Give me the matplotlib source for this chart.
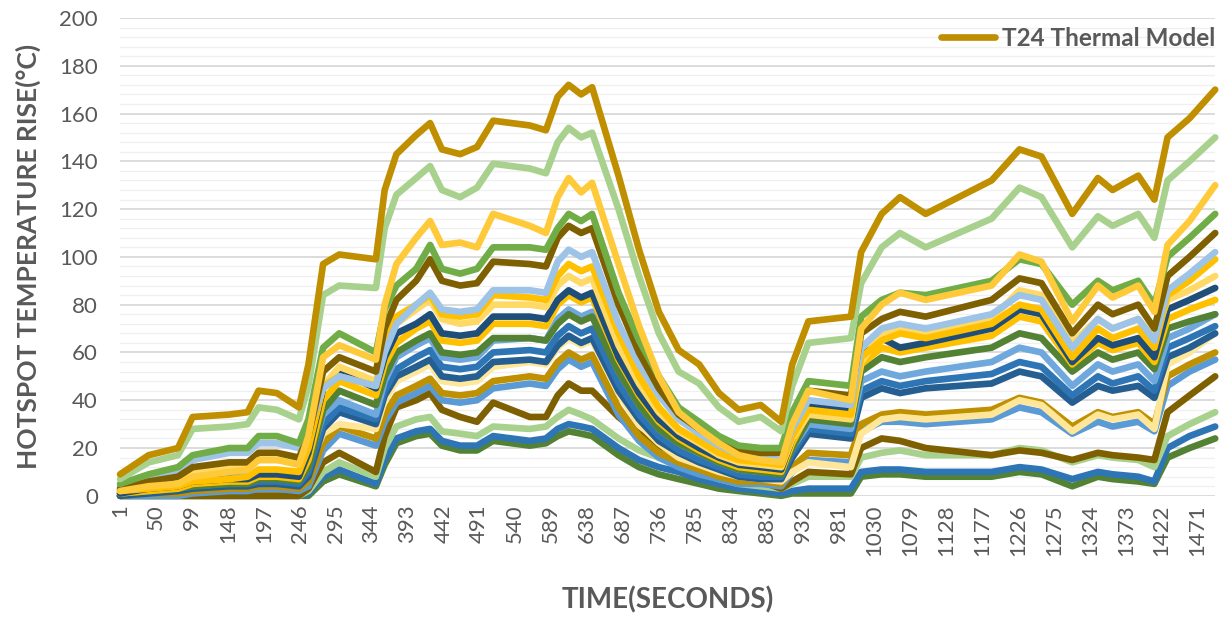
import matplotlib
matplotlib.use("Agg")
import matplotlib.pyplot as plt
from matplotlib.ticker import MultipleLocator

# sample times (seconds) shared by every series
time_s = [1, 40, 80, 100, 150, 175, 190, 215, 245, 258,
          278, 300, 350, 362, 378, 405, 424, 440, 465, 488,
          510, 560, 582, 598, 613, 630, 645, 681, 709, 736,
          763, 791, 818, 845, 875, 903, 918, 940, 998, 1012,
          1040, 1065, 1100, 1190, 1228, 1258, 1300, 1335, 1355, 1390,
          1412, 1430, 1460, 1495]

# hotspot temperature rise of each thermal model, top curve first
t24 = [9, 17, 20, 33, 34, 35, 44, 43, 37, 55,
       97, 101, 99, 128, 143, 151, 156, 145, 143, 146,
       157, 155, 153, 167, 172, 168, 171, 134, 103, 77,
       61, 55, 43, 36, 38, 31, 55, 73, 75, 102,
       118, 125, 118, 132, 145, 142, 118, 133, 128, 134,
       124, 150, 158, 170]
t23 = [7, 14, 17, 28, 29, 30, 37, 36, 32, 46,
       84, 88, 87, 112, 126, 133, 138, 128, 125, 129,
       139, 137, 135, 148, 154, 150, 152, 120, 92, 68,
       52, 47, 37, 31, 33, 27, 46, 64, 66, 89,
       104, 110, 104, 116, 129, 125, 104, 117, 113, 118,
       108, 132, 140, 150]
t22 = [2, 4, 5, 8, 10, 11, 15, 15, 13, 25,
       58, 63, 57, 80, 97, 108, 115, 105, 106, 104,
       118, 113, 110, 125, 133, 127, 131, 97, 71, 50,
       35, 28, 22, 17, 15, 14, 30, 44, 40, 70,
       80, 85, 82, 88, 101, 98, 73, 88, 83, 88,
       77, 105, 115, 130]
t21 = [5, 9, 12, 17, 20, 20, 25, 25, 22, 32,
       62, 68, 60, 78, 88, 95, 105, 95, 93, 95,
       104, 104, 103, 112, 118, 115, 118, 85, 65, 50,
       37, 31, 25, 21, 20, 20, 35, 48, 46, 75,
       82, 85, 84, 90, 99, 97, 80, 90, 86, 90,
       80, 100, 108, 118]
t20 = [3, 6, 8, 12, 14, 14, 18, 18, 16, 25,
       52, 58, 52, 70, 82, 90, 99, 90, 88, 89,
       98, 97, 96, 108, 113, 110, 112, 80, 60, 45,
       34, 28, 23, 19, 18, 18, 32, 44, 42, 68,
       74, 77, 75, 82, 91, 89, 68, 80, 76, 80,
       70, 92, 100, 110]
t19 = [4, 8, 10, 15, 18, 18, 22, 22, 20, 28,
       45, 50, 46, 60, 72, 80, 85, 78, 77, 78,
       86, 86, 85, 98, 103, 100, 102, 72, 55, 42,
       32, 26, 21, 17, 16, 15, 28, 40, 38, 62,
       70, 72, 70, 76, 84, 82, 62, 74, 70, 74,
       65, 86, 93, 102]
t18 = [2, 3, 4, 6, 7, 8, 11, 11, 10, 20,
       46, 50, 46, 62, 75, 80, 84, 76, 75, 76,
       84, 83, 82, 92, 97, 94, 96, 68, 50, 37,
       28, 23, 18, 15, 14, 13, 25, 36, 34, 58,
       65, 68, 66, 72, 80, 78, 58, 70, 66, 70,
       62, 84, 90, 99]
t17 = [3, 5, 7, 10, 12, 12, 15, 15, 14, 22,
       46, 54, 48, 62, 72, 78, 82, 74, 72, 73,
       80, 80, 79, 88, 92, 89, 91, 63, 47, 35,
       27, 22, 17, 14, 13, 12, 24, 34, 32, 56,
       68, 70, 68, 74, 86, 84, 64, 74, 70, 74,
       66, 82, 86, 92]
t16 = [1, 3, 4, 6, 7, 7, 9, 9, 8, 18,
       45, 52, 45, 58, 68, 72, 76, 68, 67, 68,
       75, 75, 74, 82, 86, 83, 85, 58, 43, 32,
       25, 20, 16, 13, 12, 11, 24, 38, 36, 58,
       66, 62, 64, 70, 78, 76, 56, 66, 63, 66,
       58, 78, 82, 87]
t15 = [1, 2, 3, 5, 6, 6, 8, 8, 7, 15,
       40, 48, 42, 55, 64, 70, 73, 65, 64, 65,
       72, 72, 71, 80, 84, 81, 83, 57, 42, 31,
       24, 19, 15, 12, 11, 10, 22, 35, 33, 55,
       62, 60, 62, 67, 75, 73, 55, 64, 61, 64,
       56, 74, 78, 82]
t14 = [1, 2, 3, 4, 5, 5, 7, 7, 6, 12,
       36, 44, 38, 50, 60, 65, 68, 60, 59, 60,
       66, 66, 65, 72, 76, 73, 75, 52, 38, 28,
       22, 18, 14, 11, 10, 9, 20, 32, 30, 52,
       58, 56, 58, 62, 68, 66, 52, 60, 57, 60,
       53, 70, 73, 76]
t13 = [2, 4, 5, 7, 8, 8, 10, 10, 9, 14,
       34, 40, 34, 48, 58, 63, 66, 58, 57, 58,
       65, 66, 65, 74, 78, 75, 77, 52, 38, 28,
       22, 18, 14, 11, 10, 10, 20, 30, 28, 48,
       52, 50, 52, 56, 62, 60, 46, 55, 52, 55,
       48, 66, 70, 76]
t12 = [1, 2, 3, 4, 5, 5, 6, 6, 5, 10,
       30, 37, 32, 44, 53, 58, 61, 54, 53, 54,
       60, 61, 60, 67, 71, 68, 70, 47, 34, 25,
       19, 15, 12, 9, 8, 8, 18, 28, 26, 44,
       48, 46, 48, 51, 56, 54, 42, 50, 47, 50,
       44, 62, 66, 71]
t11 = [0, 1, 2, 3, 4, 4, 5, 5, 4, 8,
       28, 35, 30, 42, 50, 54, 57, 50, 49, 50,
       56, 57, 56, 63, 67, 64, 66, 44, 32, 23,
       18, 14, 11, 8, 7, 7, 16, 26, 24, 41,
       45, 43, 45, 47, 52, 50, 39, 46, 44, 46,
       41, 58, 62, 68]
t10 = [2, 3, 4, 6, 7, 7, 9, 9, 8, 12,
       26, 30, 28, 40, 48, 52, 55, 48, 47, 48,
       54, 56, 55, 62, 66, 63, 65, 43, 30, 22,
       16, 13, 10, 8, 7, 6, 10, 14, 12, 26,
       32, 33, 32, 34, 40, 38, 27, 34, 32, 34,
       28, 55, 60, 68]
t9 = [0, 1, 1, 2, 3, 3, 4, 4, 3, 6,
      22, 29, 24, 34, 42, 46, 49, 43, 42, 43,
      48, 50, 49, 56, 60, 57, 59, 37, 25, 18,
      14, 11, 8, 6, 6, 5, 12, 18, 17, 30,
      34, 35, 34, 36, 41, 39, 29, 35, 33, 35,
      30, 50, 55, 60]
t8 = [0, 0, 0, 1, 2, 2, 3, 3, 2, 4,
      19, 26, 21, 31, 39, 43, 46, 40, 39, 40,
      45, 47, 46, 53, 57, 54, 56, 34, 23, 16,
      12, 9, 7, 5, 5, 4, 10, 15, 14, 27,
      31, 31, 30, 32, 37, 35, 26, 31, 29, 31,
      27, 46, 52, 57]
t7 = [0, 0, 0, 0, 0, 0, 0, 0, 0, 3,
      14, 18, 10, 25, 37, 40, 43, 36, 33, 31,
      39, 33, 33, 42, 47, 44, 44, 33, 26, 21,
      17, 13, 10, 7, 6, 3, 6, 10, 9, 20,
      24, 23, 20, 17, 19, 18, 15, 18, 17, 16,
      15, 35, 42, 50]
t6 = [0, 0, 0, 0, 0, 0, 0, 0, 0, 2,
      10, 14, 8, 20, 29, 32, 33, 27, 26, 25,
      29, 28, 29, 33, 36, 34, 32, 24, 19, 16,
      13, 10, 7, 5, 4, 3, 5, 8, 8, 16,
      18, 19, 17, 17, 20, 19, 14, 17, 16, 15,
      12, 25, 30, 35]
t5 = [0, 0, 0, 0, 0, 0, 0, 0, 0, 1,
      8, 11, 5, 15, 24, 27, 28, 23, 21, 21,
      25, 23, 24, 28, 30, 29, 28, 20, 15, 12,
      10, 7, 5, 3, 2, 1, 2, 3, 3, 10,
      11, 11, 10, 10, 12, 11, 7, 10, 9, 8,
      6, 20, 25, 29]
t4 = [0, 0, 0, 0, 0, 0, 0, 0, 0, 0,
      6, 9, 4, 13, 22, 25, 26, 21, 19, 19,
      23, 21, 22, 25, 27, 26, 25, 17, 12, 9,
      7, 5, 3, 2, 1, 0, 1, 1, 1, 8,
      9, 9, 8, 8, 10, 9, 4, 8, 7, 6,
      5, 16, 20, 24]

x_tick_labels = [1, 50, 99, 148, 197, 246, 295, 344, 393, 442, 491, 540,
                 589, 638, 687, 736, 785, 834, 883, 932, 981, 1030, 1079,
                 1128, 1177, 1226, 1275, 1324, 1373, 1422, 1471]

# drawing order: bottom curves first, T24 last so it sits on top
series = [
    (t4, "#548235"), (t5, "#2E75B6"), (t6, "#A9D18E"), (t7, "#7F6000"),
    (t8, "#5B9BD5"), (t9, "#BF9000"), (t10, "#FFE699"), (t11, "#255E91"),
    (t12, "#2E75B6"), (t13, "#6FA8DC"), (t14, "#548235"), (t15, "#FFC000"),
    (t16, "#1F4E79"), (t17, "#FFD966"), (t18, "#FFC000"), (t19, "#9DC3E6"),
    (t20, "#7F6000"), (t21, "#70AD47"), (t22, "#FFCA3A"), (t23, "#A9D18E"),
]

grey = "#595959"
lw = 4.8
plt.rcParams['font.family'] = ['Lato', 'DejaVu Sans']

fig = plt.figure(figsize=(12.25, 6.19), dpi=100)
ax = fig.add_axes([0.098, 0.199, 0.894, 0.772])

for vals, col in series:
    ax.plot(time_s, vals, color=col, lw=lw, solid_joinstyle='round',
            solid_capstyle='round', clip_on=False)
ax.plot(time_s, t24, color="#BF8F00", lw=lw, solid_joinstyle='round',
        solid_capstyle='round', clip_on=False, label="T24 Thermal Model")

ax.set_xlim(1, 1495)
ax.set_ylim(0, 200)
ax.set_yticks(range(0, 201, 20))
ax.yaxis.set_minor_locator(MultipleLocator(4))
ax.set_xticks(x_tick_labels)
ax.set_xticklabels([str(v) for v in x_tick_labels], rotation=90)

ax.grid(axis='y', which='major', color="#D9D9D9", lw=1.3)
ax.grid(axis='y', which='minor', color="#F0F0F0", lw=1.0)
ax.set_axisbelow(True)
for s in ax.spines.values():
    s.set_visible(False)
ax.tick_params(axis='both', which='both', length=0, labelsize=16,
               labelcolor=grey)
ax.tick_params(axis='y', pad=16)
ax.tick_params(axis='x', pad=6)

fig.text(0.023, 0.585, "HOTSPOT TEMPERATURE RISE(\u00b0C)", rotation=90,
         ha='center', va='center', fontsize=19, fontweight='bold', color=grey)
fig.text(0.545, 0.031, "TIME(SECONDS)", ha='center', va='center',
         fontsize=20, fontweight='bold', color=grey)

leg = ax.legend(loc='center right', bbox_to_anchor=(1.0, 0.958), frameon=False,
                borderpad=0, borderaxespad=0, handlelength=2.2,
                handletextpad=0.3, prop={'size': 17.5, 'weight': 'bold'})
for txt in leg.get_texts():
    txt.set_color(grey)

fig.savefig("out.png", dpi=100)
